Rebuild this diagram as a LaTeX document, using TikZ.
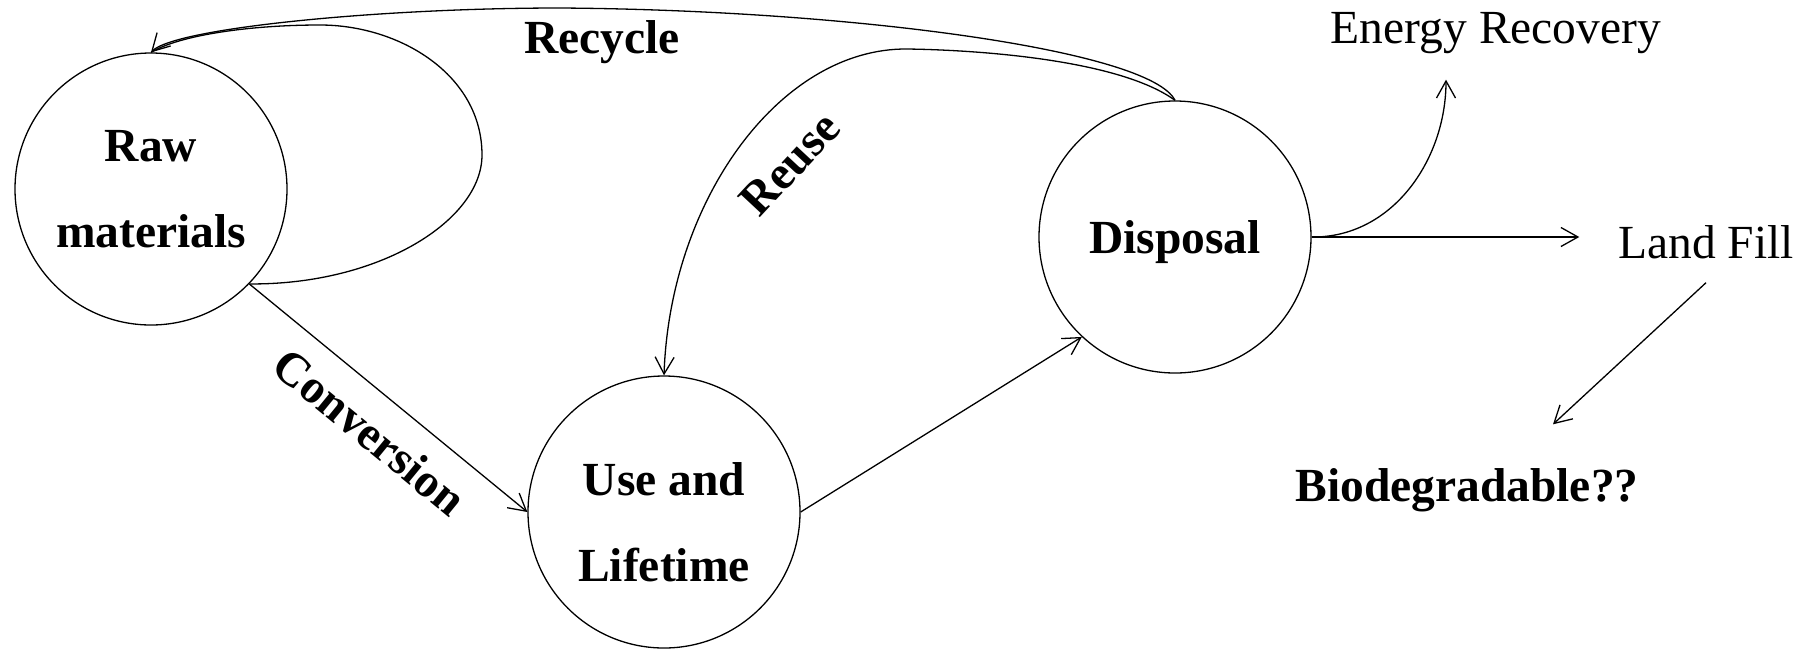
\documentclass[tikz,border=0pt]{standalone}
\usepackage{fontspec}
\setmainfont{Liberation Serif}
\usetikzlibrary{arrows.meta}

\begin{document}
\begin{tikzpicture}[x=1pt, y=-1pt, line width=1.3pt,
        stage/.style={circle, draw=black, minimum size=272pt, inner sep=0pt},
        stagetext/.style={align=center, font=\fontsize{47.5}{86}\selectfont\bfseries},
        fate/.style={font=\fontsize{47.5}{57}\selectfont},
        tag/.style={font=\fontsize{47.5}{57}\selectfont\bfseries},
        flow/.style={-{Straight Barb[length=17pt, width=19pt]}}
    ]
        \useasboundingbox (0,0) rectangle (1814,649);

        % Stages
        \node[stage, stagetext] (raw) at (151,189) {Raw\\materials};
        \node[stage] (use) at (664,512) {};
        \node[stagetext] (usetext) at ([yshift=-10pt]use.center) {Use and\\Lifetime};
        \node[stage, stagetext, text depth=0pt] (dispo) at (1175,237) {Disposal};

        % End of life
        \node[fate] (energy) at (1496,33) {Energy Recovery};
        \node[fate] (fill) at (1706,242) {Land Fill};
        \node[tag] (bio) at (1467,490) {Biodegradable??};

        % Flows
        \draw[flow] (raw.-44) -- node[tag, sloped, below=17pt, pos=0.52] (conv) {Conversion} (use.west);
        \draw[flow] (use.east) -- (dispo.-133);
        \draw[flow] (dispo.north) .. controls (1120,60) and (980,50) .. (907,49)
            .. controls (780,48) and (670,200) .. (use.north);
        \draw[flow] (dispo.north) .. controls (1150,50) and (850,10) .. (560,8)
            .. controls (380,8) and (175,28) .. (raw.north);
        \draw (raw.-44) .. controls (380,285) and (482,220) .. (482,155)
            .. controls (482,75) and (400,25) .. (320,25)
            .. controls (250,25) and (180,35) .. (raw.north);
        \draw[flow] (dispo.east) .. controls (1392,238) and (1446,160) .. ([xshift=-50pt, yshift=-22pt]energy.south);
        \draw[flow, shorten >=35pt] (dispo.east) -- (dispo.east -| fill.west);
        \draw[flow] ([yshift=-20pt]fill.south) -- ([xshift=86pt, yshift=40pt]bio.north);

        % Labels
        \node[tag] (recycle) at (602,42) {Recycle};
        \node[tag, rotate=47] (reuse) at (790,164) {Reuse};
\end{tikzpicture}
\end{document}
